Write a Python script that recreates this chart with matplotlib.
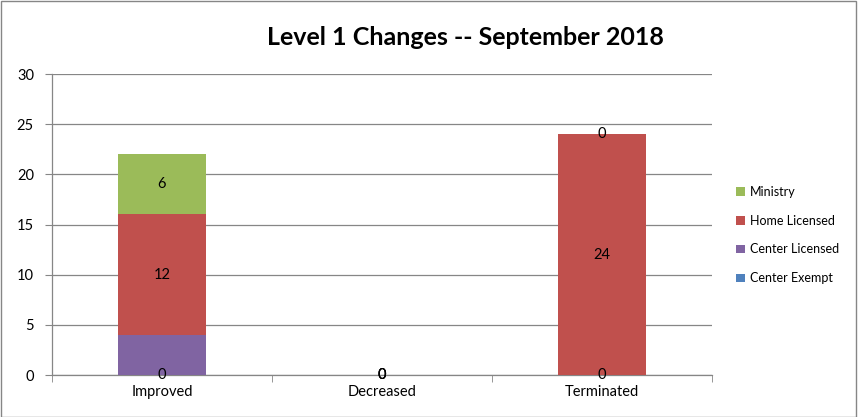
import matplotlib
matplotlib.use("Agg")
import matplotlib.pyplot as plt
import numpy as np

categories = ["Improved", "Decreased", "Terminated"]
center_exempt = [0, 0, 0]
center_licensed = [4, 0, 0]
home_licensed = [12, 0, 24]
ministry = [6, 0, 0]

series = [
    ("Center Exempt", center_exempt, "#4F81BD", True),
    ("Center Licensed", center_licensed, "#8064A2", False),
    ("Home Licensed", home_licensed, "#C0504D", True),
    ("Ministry", ministry, "#9BBB59", True),
]

plt.rcParams['font.family'] = ['Lato', 'DejaVu Sans']

fig = plt.figure(figsize=(8.58, 4.17), dpi=100)
ax = fig.add_axes([0.0606, 0.1007, 0.7692, 0.7218])

x = np.arange(len(categories))
bottom = np.zeros(len(categories))
handles = []
for name, vals, color, show_label in series:
    vals = np.array(vals, dtype=float)
    bars = ax.bar(x, vals, 0.4, bottom=bottom, color=color, label=name, zorder=3)
    handles.append(bars)
    if show_label:
        for xi, b, v in zip(x, bottom, vals):
            ax.text(xi, b + v / 2, "%d" % v, ha="center", va="center",
                    fontsize=10.5, color="black", zorder=4)
    bottom = bottom + vals

ax.set_xlim(-0.5, 2.5)
ax.set_ylim(0, 30)
ax.set_yticks(range(0, 31, 5))
ax.set_xticks(x)
ax.set_xticklabels(categories, fontsize=10.5)
ax.set_xticks([-0.5, 0.5, 1.5, 2.5], minor=True)
ax.tick_params(axis="x", which="major", length=0, pad=7)
ax.tick_params(axis="x", which="minor", length=5, color="#868686", direction="out")
ax.tick_params(axis="y", length=5, color="#868686", labelsize=10.5, pad=8)
ax.grid(axis="y", color="#868686", linewidth=0.9, zorder=0)
for s in ["top", "right"]:
    ax.spines[s].set_visible(False)
for s in ["left", "bottom"]:
    ax.spines[s].set_color("#868686")
    ax.spines[s].set_linewidth(0.9)

fig.text(0.542, 0.91, "Level 1 Changes -- September 2018", ha="center", va="center",
         fontsize=18, fontweight="bold")

ax.legend(handles[::-1], [s[0] for s in series][::-1], loc="center left",
          bbox_to_anchor=(1.02, 0.465), frameon=False, fontsize=9,
          handlelength=0.7, handleheight=0.7, labelspacing=1.35, handletextpad=0.4)

fig.patches.append(plt.Rectangle((0.001, 0.001), 0.997, 0.997, transform=fig.transFigure,
                                 fill=False, edgecolor="#868686", linewidth=1))

fig.savefig("out.png", dpi=100)
